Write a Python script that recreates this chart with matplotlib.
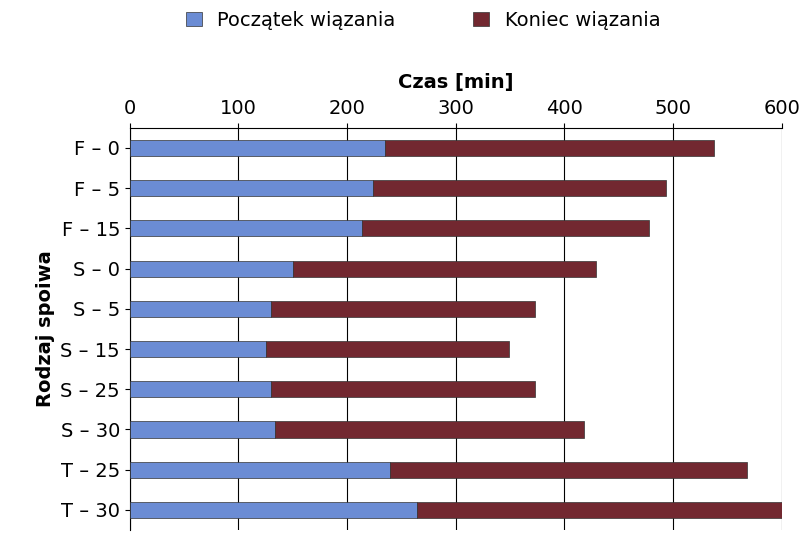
import matplotlib.pyplot as plt
import numpy as np

categories = ["F – 0", "F – 5", "F – 15", "S – 0", "S – 5", "S – 15", "S – 25", "S – 30", "T – 25", "T – 30"]
start = [235, 224, 214, 150, 130, 125, 130, 134, 239, 264]
end = [538, 493, 478, 429, 373, 349, 373, 418, 568, 600]
ticks = [0, 100, 200, 300, 400, 500, 600]

fig = plt.figure(figsize=(8.06, 5.37), dpi=100)
ax = fig.add_axes([0.161, 0.013, 0.809, 0.749])
y = np.arange(len(categories))
dur = [e - s for s, e in zip(start, end)]
ax.barh(y, start, height=0.4, color="#6B8CD4", edgecolor="#333333", lw=0.5, label="Początek wiązania", zorder=3)
ax.barh(y, dur, left=start, height=0.4, color="#722830", edgecolor="#333333", lw=0.5, label="Koniec wiązania", zorder=3)
ax.set_ylim(len(categories) - 0.5, -0.5)
ax.set_xlim(0, 600)
ax.set_xticks(ticks)
ax.xaxis.tick_top()
ax.xaxis.set_label_position("top")
ax.set_xlabel("Czas [min]", fontsize=14, fontweight="bold", labelpad=8)
ax.set_ylabel("Rodzaj spoiwa", fontsize=14, fontweight="bold")
ax.set_yticks(y)
ax.set_yticklabels(categories, fontsize=14)
ax.tick_params(axis="x", labelsize=14)
ax.grid(axis="x", color="black", lw=0.8, zorder=0)
for s in ["right", "bottom"]:
    ax.spines[s].set_visible(False)
ax.legend(loc="lower center", bbox_to_anchor=(0.45, 1.2), ncol=2, frameon=False, fontsize=14, handlelength=0.8, columnspacing=4)
fig.savefig("out.png", dpi=100)
